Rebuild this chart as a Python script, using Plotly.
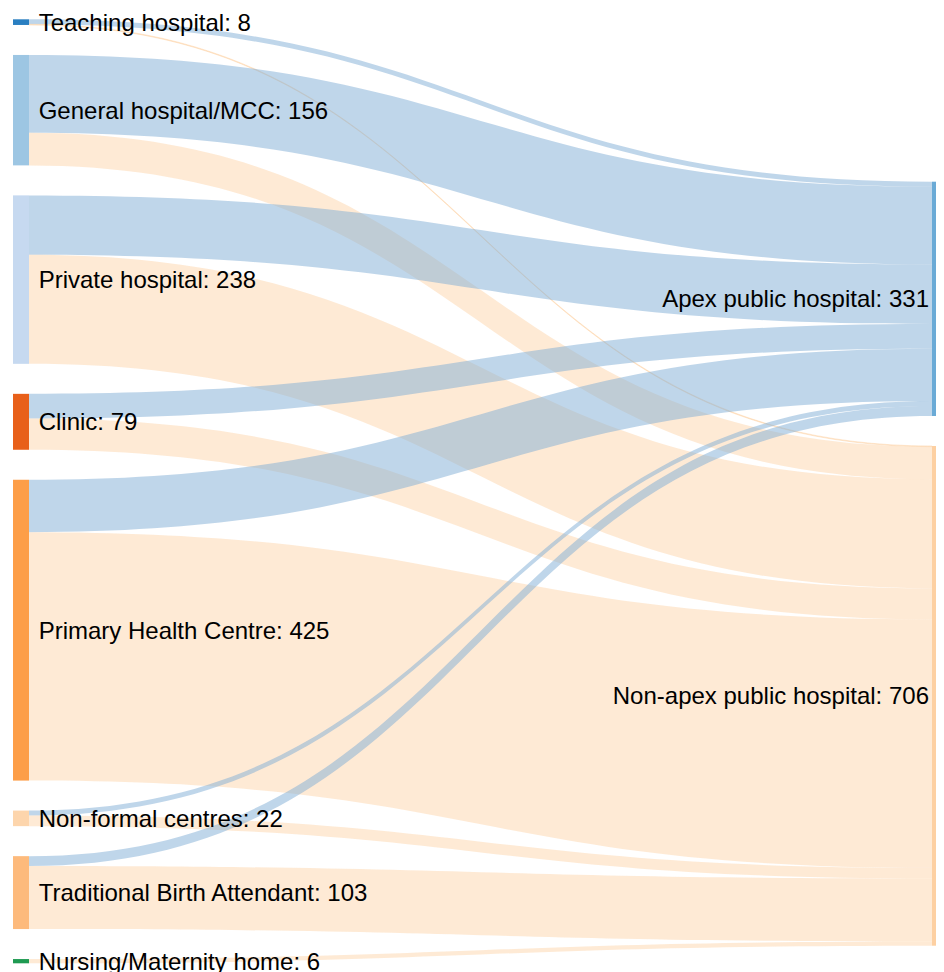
import plotly.graph_objects as go

# ---- data ----
source_names = ["Teaching hospital", "General hospital/MCC", "Private hospital", "Clinic",
                "Primary Health Centre", "Non-formal centres", "Traditional Birth Attendant",
                "Nursing/Maternity home"]
target_names = ["Apex public hospital", "Non-apex public hospital"]
to_apex = [7, 110, 84, 35, 74, 7, 14, 0]
to_nonapex = [1, 46, 154, 44, 351, 15, 89, 6]

# ---- styles ----
source_colors = ["#2a7fc1", "#9dc6e3", "#c6d9f0", "#e8601a", "#fd9e48", "#fdd5ac", "#fdba7c", "#1f9a52"]
target_colors = ["#6aaad6", "#fdd0a2"]
link_colors = ["rgba(128,174,214,0.5)", "rgba(253,208,162,0.45)"]

# figure sized for the page (body has an 8px default margin)
W, H = 936, 964
mt, mb = 11, 9
pad = 30
thickness = 16
dom_h = H - mt - mb
NBSP = "\u00a0"

# ---- build sankey ----
labels = []
src_tot = [a + b for a, b in zip(to_apex, to_nonapex)]
tgt_tot = [sum(to_apex), sum(to_nonapex)]
for n, t in zip(source_names, src_tot):
    labels.append(f"{NBSP}{n}: {t}")
for n, t in zip(target_names, tgt_tot):
    labels.append(f"{n}: {t}")

nS = len(source_names)
src, tgt, val, lcol = [], [], [], []
for i in range(nS):
    for j, arr in enumerate([to_apex, to_nonapex]):
        if arr[i] > 0:
            src.append(i)
            tgt.append(nS + j)
            val.append(arr[i])
            lcol.append(link_colors[j])

# node arrangement (layout): left column stacked, right column offset
total = sum(src_tot)
ky = (dom_h - (nS - 1) * pad) / total
node_x, node_y = [], []
cur = 0.3
for t in src_tot:
    h = t * ky
    node_x.append(13 / W)
    node_y.append((cur + h / 2) / dom_h)
    cur += h + pad
right_top = 162.7
cur = right_top
for t in tgt_tot:
    h = t * ky
    node_x.append(932 / W)
    node_y.append((cur + h / 2) / dom_h)
    cur += h + pad

fig = go.Figure(go.Sankey(
    arrangement="fixed",
    node=dict(
        label=labels,
        color=source_colors + target_colors,
        pad=pad,
        thickness=thickness,
        line=dict(width=0),
        x=node_x,
        y=node_y,
    ),
    link=dict(source=src, target=tgt, value=val, color=lcol),
    textfont=dict(family="Liberation Sans, Arial, Helvetica, sans-serif", size=24, color="black", shadow="none"),
))

fig.update_layout(
    width=W, height=H,
    margin=dict(l=0, r=0, t=mt, b=mb),
    paper_bgcolor="white",
    plot_bgcolor="white",
    font=dict(family="Liberation Sans, Arial, Helvetica, sans-serif", size=24, color="black"),
)

fig.write_html("out.html")
